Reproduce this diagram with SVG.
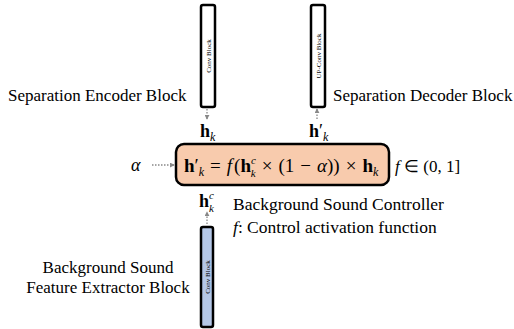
<svg xmlns="http://www.w3.org/2000/svg" width="514" height="329" viewBox="0 0 514 329">
<style>
text{font-family:"Liberation Serif","Times New Roman",serif;fill:#000}
.lbl{font-size:17px}
.ctl{font-size:17.5px}
.blk{stroke:#000;stroke-width:2.5}
.blktxt{font-size:7px}
.b{font-weight:bold}
.i{font-style:italic}
.conn{stroke:#888;stroke-width:1.3;stroke-dasharray:1.5 1.5;fill:none}
</style>
<defs>
<marker id="ah" viewBox="0 0 6 6" refX="5" refY="3" markerWidth="5" markerHeight="5" orient="auto" markerUnits="userSpaceOnUse">
<path d="M0,0 L6,3 L0,6 z" fill="#888"/>
</marker>
</defs>
<g id="enc">
<rect class="blk" x="201" y="5" width="14" height="102" rx="2" fill="#fff"/>
<text class="blktxt" transform="translate(210.5,56) rotate(-90)" text-anchor="middle">Conv Block</text>
<text class="lbl" x="8" y="101">Separation Encoder Block</text>
</g>
<g id="dec">
<rect class="blk" x="311" y="5" width="14" height="102" rx="2" fill="#fff"/>
<text class="blktxt" transform="translate(320.5,56) rotate(-90)" text-anchor="middle">UP-Conv Block</text>
<text class="lbl" x="333" y="101">Separation Decoder Block</text>
</g>
<g id="ctrl">
<rect class="blk" x="176" y="144" width="213" height="41" rx="8" fill="#F8CBAD"/>
<text x="184" y="172" font-size="19"><tspan class="b">h</tspan><tspan>′</tspan><tspan class="i" font-size="12" dy="4">k</tspan><tspan dy="-4" dx="6">=</tspan><tspan class="i" dx="6">f</tspan><tspan dx="2">(</tspan><tspan class="b">h</tspan><tspan class="i" font-size="11" dy="-8">c</tspan><tspan class="i" font-size="11" dy="13" dx="-5">k</tspan><tspan dy="-5" dx="6">×</tspan><tspan dx="6">(1</tspan><tspan dx="6">−</tspan><tspan class="i" dx="6">α</tspan><tspan>))</tspan><tspan dx="6">×</tspan><tspan class="b" dx="6">h</tspan><tspan class="i" font-size="12" dy="4">k</tspan></text>
<text class="lbl" x="395" y="172"><tspan class="i">f</tspan> ∈ (0, 1]</text>
<text class="ctl" x="233" y="210">Background Sound Controller</text>
<text class="ctl" x="233" y="233"><tspan class="i">f</tspan>: Control activation function</text>
</g>
<g id="bg">
<rect class="blk" x="201" y="227" width="12" height="100" rx="2" fill="#B4C7E7"/>
<text class="blktxt" transform="translate(209.5,277) rotate(-90)" text-anchor="middle">Conv Block</text>
<text class="lbl" x="108" y="273" text-anchor="middle">Background Sound</text>
<text class="lbl" x="108" y="293" text-anchor="middle">Feature Extractor Block</text>
</g>
<g id="labels">
<text x="200" y="137" font-size="18"><tspan class="b">h</tspan><tspan class="i" font-size="12" dy="4">k</tspan></text>
<text x="309" y="137" font-size="18"><tspan class="b">h</tspan><tspan>′</tspan><tspan class="i" font-size="12" dy="4">k</tspan></text>
<text x="199" y="207" font-size="18"><tspan class="b">h</tspan><tspan class="i" font-size="11" dy="-8">c</tspan><tspan class="i" font-size="11" dy="13" dx="-5">k</tspan></text>
<text x="131" y="171" font-size="18" class="i">α</text>
</g>
<g id="connectors">
<line class="conn" x1="207" y1="109" x2="207" y2="119" marker-end="url(#ah)"/>
<line class="conn" x1="317" y1="119" x2="317" y2="109" marker-end="url(#ah)"/>
<line class="conn" x1="207" y1="224" x2="207" y2="212" marker-end="url(#ah)"/>
<line class="conn" x1="152" y1="165" x2="174" y2="165" marker-end="url(#ah)"/>
</g>
</svg>
